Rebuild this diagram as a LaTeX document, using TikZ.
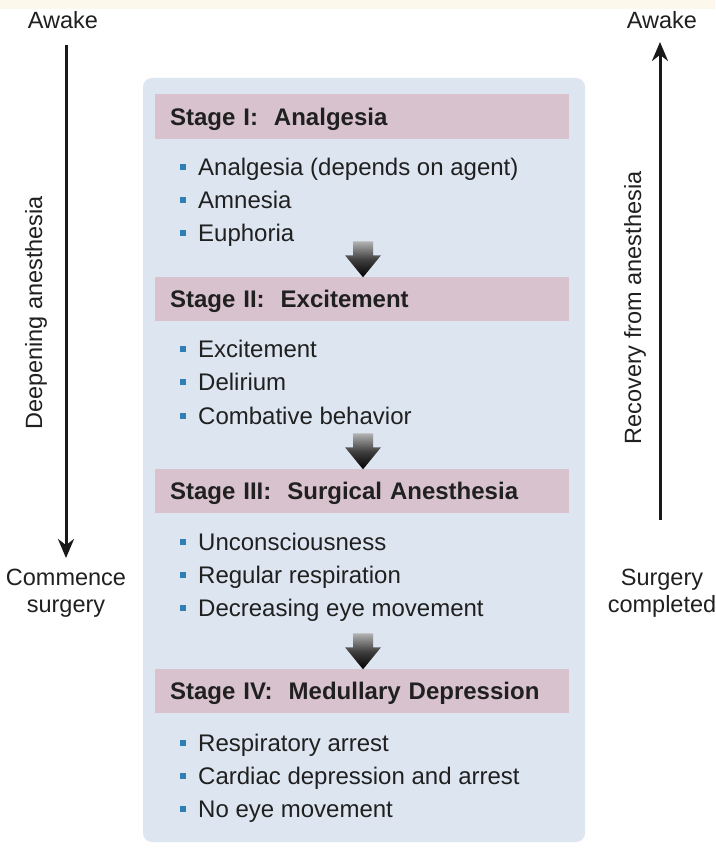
\documentclass[tikz,border=0pt]{standalone}
\usepackage{fontspec}
\setmainfont{Liberation Sans}
\usetikzlibrary{calc,arrows.meta}
\definecolor{cream}{HTML}{FDF8EC}
\definecolor{panelblue}{HTML}{DCE5F0}
\definecolor{hdrpink}{HTML}{D8C2CD}
\definecolor{bulblue}{HTML}{2F7EB6}
\definecolor{txt}{HTML}{202020}
\newcommand{\bulsq}{\textcolor{bulblue}{\rule[5.5pt]{6pt}{6pt}}\hspace{12pt}}
\begin{document}
\begin{tikzpicture}[x=1pt,y=-1pt,
  every node/.style={text=txt},
  panelbox/.style={fill=panelblue, rounded corners=9pt, minimum width=442pt, minimum height=764pt, inner sep=0pt},
  hdr/.style={fill=hdrpink, minimum width=414pt, minimum height=44pt, inner xsep=15pt, inner ysep=0pt,
    text width=384pt, align=left, font=\fontsize{24}{28}\selectfont\bfseries, text height=17.2pt, text depth=0pt},
  itm/.style={anchor=west, inner sep=0pt, font=\fontsize{24}{28}\selectfont, text height=17.2pt, text depth=0pt},
  side/.style={align=center, inner sep=0pt, font=\fontsize{23.5}{27}\selectfont},
  bigarrow/.style={line width=3pt, draw=black!90, -{Stealth[length=19pt,width=16pt]}},
  stagearrow/.style={top color=black!30, bottom color=black, middle color=black!75}
]
\useasboundingbox (0,0) rectangle (715,848);
\fill[white] (0,0) rectangle (715,848);
\fill[cream] (0,0) rectangle (715,9);

% panel
\node[panelbox] (panel) at (364,460) {};

% headers
\node[hdr] (h1) at (362,116.5) {Stage I:\ \ Analgesia};
\node[hdr] (h2) at (362,298.5) {Stage II:\ \ Excitement};
\node[hdr] (h3) at (362,490.5) {Stage III:\ \ Surgical Anesthesia};
\node[hdr] (h4) at (362,690.5) {Stage IV:\ \ Medullary Depression};

% items
\node[itm] (i11) at (180,167) {\bulsq Analgesia (depends on agent)};
\node[itm] (i12) at (180,200) {\bulsq Amnesia};
\node[itm] (i13) at (180,233) {\bulsq Euphoria};

\node[itm] (i21) at (180,349) {\bulsq Excitement};
\node[itm] (i22) at (180,382) {\bulsq Delirium};
\node[itm] (i23) at (180,416) {\bulsq Combative behavior};

\node[itm] (i31) at (180,542) {\bulsq Unconsciousness};
\node[itm] (i32) at (180,575) {\bulsq Regular respiration};
\node[itm] (i33) at (180,608) {\bulsq Decreasing eye movement};

\node[itm] (i41) at (180,743) {\bulsq Respiratory arrest};
\node[itm] (i42) at (180,776) {\bulsq Cardiac depression and arrest};
\node[itm] (i43) at (180,809) {\bulsq No eye movement};

% stage arrows (tip on next header)
\foreach \h in {h2,h3,h4}{
  \coordinate (t) at ($(\h.north)+(1,1)$);
  \shade[stagearrow] ($(t)+(-10,-36)$) -- ($(t)+(10,-36)$) -- ($(t)+(10,-22)$) -- ($(t)+(18,-22)$)
     -- (t) -- ($(t)+(-18,-22)$) -- ($(t)+(-10,-22)$) -- cycle;
}

% left side
\node[side] (awL) at (63,20) {Awake};
\node[side] (comm) at (66,593) {Commence\\surgery};
\coordinate (lTop) at (66,45);
\coordinate (lBot) at (66,558);
\draw[bigarrow] (lTop) -- (lBot);
\node[side, rotate=90] (deep) at (36,313) {Deepening anesthesia};

% right side
\node[side] (awR) at (662,20) {Awake};
\node[side] (surg) at (662,593) {Surgery\\completed};
\coordinate (rBot) at (660,520);
\coordinate (rTop) at (660,42);
\draw[bigarrow] (rBot) -- (rTop);
\node[side, rotate=90] (rec) at (635,308) {Recovery from anesthesia};
\end{tikzpicture}
\end{document}
